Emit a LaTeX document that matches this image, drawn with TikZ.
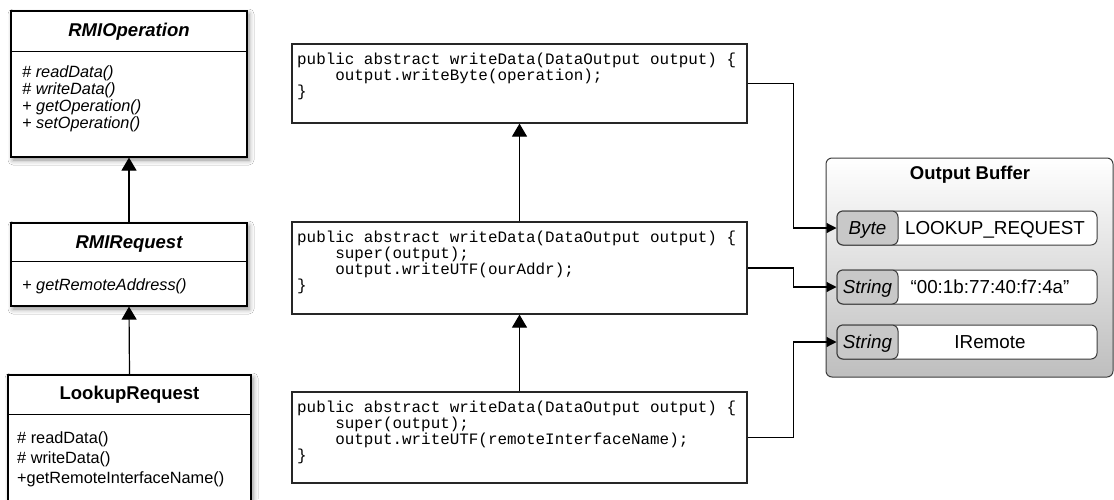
\documentclass[tikz,border=0pt]{standalone}
\usepackage{fontspec}
\setmainfont{Liberation Sans}
\newfontfamily\codefont{Liberation Mono}
\usetikzlibrary{arrows.meta,shadows.blur}

\definecolor{typegray}{RGB}{200,200,200}
\definecolor{bufgray}{RGB}{190,190,190}
\definecolor{bordergray}{RGB}{60,60,60}

\begin{document}
\begin{tikzpicture}[x=1pt,y=-1pt,
  umlbox/.style={draw=black, line width=1.2pt, fill=white, rectangle, inner sep=0pt,
    blur shadow={shadow xshift=2pt, shadow yshift=-3pt, shadow blur radius=5pt, shadow opacity=45}},
  codebox/.style={draw=black!85, line width=1.2pt, fill=white, rectangle, inner sep=0pt, minimum width=455pt},
  codetext/.style={inner sep=0pt, align=left, anchor=north west, font=\codefont\fontsize{15.9}{16}\selectfont},
  umltitle/.style={inner sep=0pt, font=\fontsize{18.5}{20}\selectfont\bfseries\itshape},
  umltitleplain/.style={inner sep=0pt, font=\fontsize{18.5}{20}\selectfont\bfseries},
  umlitem/.style={inner sep=0pt, anchor=base west, font=\fontsize{16.3}{18}\selectfont\itshape},
  umlitemplain/.style={inner sep=0pt, anchor=base west, font=\fontsize{16.3}{18}\selectfont},
  divider/.style={line width=1.2pt},
  inh/.style={-{Triangle[length=13pt,width=15pt]}, line width=1.2pt},
  conn/.style={-{Triangle[length=10pt,width=10pt]}, line width=1.2pt},
  bufframe/.style={draw=bordergray, line width=1pt, rounded corners=6pt, top color=white, bottom color=bufgray, minimum width=287pt, minimum height=219pt},
  celloutline/.style={draw=bordergray, line width=1pt, fill=white, rounded corners=6pt, minimum width=260pt, minimum height=34pt},
  celltype/.style={draw=bordergray, line width=1pt, fill=typegray, rounded corners=6pt, minimum width=61pt, minimum height=34pt, inner sep=0pt, text height=13.5pt, text depth=0pt, font=\fontsize{18.8}{20}\selectfont\itshape},
  cellvalue/.style={inner sep=0pt, anchor=base, font=\fontsize{18.8}{20}\selectfont},
]
\useasboundingbox (0,0) rectangle (1114,499);
\fill[white] (0,0) rectangle (1114,499);
\clip (0,0) rectangle (1114,499);

% ---------- UML classes ----------
\node[umlbox, minimum width=236pt, minimum height=146pt] (op) at (129,84) {};
\draw[divider] (op.north west) ++(0,41) -- ++(236,0);
\node[umltitle] (opt) at (129,32) {RMIOperation};
\node[umlitem] (op1) at (22,77.5) {\# readData()};
\node[umlitem] (op2) at (22,94.5) {\# writeData()};
\node[umlitem] (op3) at (22,111.5) {+ getOperation()};
\node[umlitem] (op4) at (22,128.5) {+ setOperation()};

\node[umlbox, minimum width=236pt, minimum height=83pt] (rq) at (129,264.5) {};
\draw[divider] (rq.north west) ++(0,39) -- ++(236,0);
\node[umltitle] (rqt) at (129,244) {RMIRequest};
\node[umlitem] (rq1) at (22,290.5) {+ getRemoteAddress()};

\node[umlbox, minimum width=243pt, minimum height=150pt] (lk) at (129.5,450) {};
\draw[divider] (lk.north west) ++(0,40) -- ++(243,0);
\node[umltitleplain] (lkt) at (129.5,395) {LookupRequest};
\node[umlitemplain] (lk1) at (17,443.5) {\# readData()};
\node[umlitemplain] (lk2) at (17,463.5) {\# writeData()};
\node[umlitemplain] (lk3) at (17,483) {+getRemoteInterfaceName()};

\draw[inh] (rq.north) -- (op.south);
\draw[inh] (lk.north) -- (rq.south);

% ---------- code boxes ----------
\node[codebox, minimum height=79pt] (c1) at (519.5,83.5) {};
\node[codetext] (c1t) at (297,52.5) {public abstract writeData(DataOutput output) \{\\
\phantom{xxxx}output.writeByte(operation);\\
\}};

\node[codebox, minimum height=92pt] (c2) at (519.5,268) {};
\node[codetext] (c2t) at (297,230.5) {public abstract writeData(DataOutput output) \{\\
\phantom{xxxx}super(output);\\
\phantom{xxxx}output.writeUTF(ourAddr);\\
\}};

\node[codebox, minimum height=91pt] (c3) at (519.5,437.5) {};
\node[codetext] (c3t) at (297,400.5) {public abstract writeData(DataOutput output) \{\\
\phantom{xxxx}super(output);\\
\phantom{xxxx}output.writeUTF(remoteInterfaceName);\\
\}};

\draw[inh] (c2.north) -- (c1.south);
\draw[inh] (c3.north) -- (c2.south);

% ---------- output buffer ----------
\node[bufframe] (buf) at (969.5,267.5) {};
\node[inner sep=0pt, font=\fontsize{18.5}{20}\selectfont\bfseries] (buft) at (970,175) {Output Buffer};

\node[celloutline] (cell1) at (967,228) {};
\node[celltype] (type1) at (867.5,228) {Byte};
\node[cellvalue] (val1) at (995,234.5) {LOOKUP\_REQUEST};

\node[celloutline] (cell2) at (967,287) {};
\node[celltype] (type2) at (867.5,287) {String};
\node[cellvalue] (val2) at (990,293.5) {“00:1b:77:40:f7:4a”};

\node[celloutline] (cell3) at (967,342) {};
\node[celltype] (type3) at (867.5,342) {String};
\node[cellvalue] (val3) at (990,348.5) {IRemote};

\draw[conn] (c1.east) -- ++(46,0) |- (type1.west);
\draw[conn] (c2.east) -- ++(46,0) |- (type2.west);
\draw[conn] (c3.east) -- ++(46,0) |- (type3.west);
\end{tikzpicture}
\end{document}
